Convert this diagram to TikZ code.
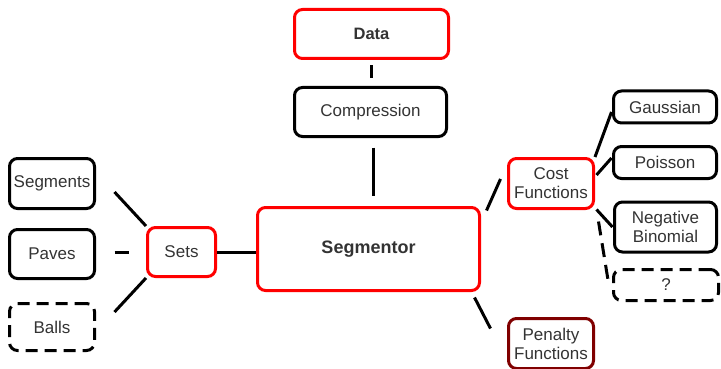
\documentclass[tikz,border=0pt]{standalone}
\usepackage{fontspec}
\setmainfont{Liberation Sans}
\usetikzlibrary{calc}
\definecolor{txt}{HTML}{333333}
\definecolor{boxred}{HTML}{FF0000}
\definecolor{darkred}{HTML}{800000}
\begin{document}
\begin{tikzpicture}[x=1pt,y=-1pt,
  box/.style={draw=black, line width=3pt, rounded corners=8pt, text=txt,
    font=\fontsize{17}{19}\selectfont, align=center, inner sep=0pt},
  redbox/.style={box, draw=boxred},
  dashbox/.style={box, dash pattern=on 12pt off 7pt},
  conn/.style={line width=3pt, draw=black},
  dashconn/.style={conn, dash pattern=on 14pt off 8pt}]
\useasboundingbox (0,0) rectangle (721,369);
\node[redbox, minimum width=154pt, minimum height=49pt, font=\fontsize{16.5}{19}\selectfont\bfseries] (data) at (371.5,34) {Data};
\node[box, minimum width=152pt, minimum height=49pt] (comp) at (370.5,112) {Compression};
\node[redbox, minimum width=222pt, minimum height=83pt, font=\fontsize{18}{21}\selectfont\bfseries] (segm) at (368.5,249) {Segmentor};
\node[redbox, minimum width=68pt, minimum height=49pt] (sets) at (181.5,252) {Sets};
\node[box, minimum width=85pt, minimum height=50pt] (seg) at (52,183.5) {Segments};
\node[box, minimum width=85pt, minimum height=49pt] (pav) at (52,254) {Paves};
\node[dashbox, minimum width=85pt, minimum height=47pt] (ball) at (52,327) {Balls};
\node[redbox, minimum width=85pt, minimum height=50pt] (cost) at (551,183.5) {Cost\\Functions};
\node[box, draw=darkred, minimum width=85pt, minimum height=50pt] (pen) at (551,343.5) {Penalty\\Functions};
\node[box, minimum width=103pt, minimum height=32pt] (gauss) at (665,107) {Gaussian};
\node[box, minimum width=103pt, minimum height=32pt] (pois) at (665,162.5) {Poisson};
\node[box, minimum width=102pt, minimum height=50pt] (neg) at (665.5,227) {Negative\\Binomial};
\node[dashbox, minimum width=105pt, minimum height=31pt] (q) at (666,285) {?};
% connectors
\draw[conn, shorten <=5.5pt, shorten >=7.5pt] (data.south) -- (data.south |- comp.north);
\draw[conn, shorten <=9.5pt, shorten >=10.5pt] ($(comp.south)+(2.5,0)$) -- ($(comp.south |- segm.north)+(2.5,0)$);
\draw[conn] ($(seg.east)+(18.5,8.5)$) -- (sets.north west);
\draw[conn, shorten <=18.5pt, shorten >=17.5pt] (pav.east |- sets.west) -- (sets.west);
\draw[conn] ($(ball.east)+(18.5,-15)$) -- (sets.south west);
\draw[conn] (sets.east) -- (segm.west |- sets.east);
\draw[conn] ($(segm.north east)+(5.5,4.5)$) -- ($(cost.west)+(-6.5,-4.5)$);
\draw[conn] ($(segm.south east)+(-6.5,5.5)$) -- ($(pen.north west)+(-16.5,11.5)$);
\draw[conn] (cost.north east) -- ($(gauss.west)+(-0.5,5)$);
\draw[conn] ($(cost.east)+(1.5,-8.5)$) -- ($(pois.west)+(-0.5,-4.5)$);
\draw[conn] ($(cost.south east)+(1.5,-0.5)$) -- ($(neg.west)+(-0.5,0)$);
\draw[dashconn] ($(cost.south east)+(3.5,11.5)$) -- ($(q.west)+(-3.5,-2)$);
\end{tikzpicture}
\end{document}
